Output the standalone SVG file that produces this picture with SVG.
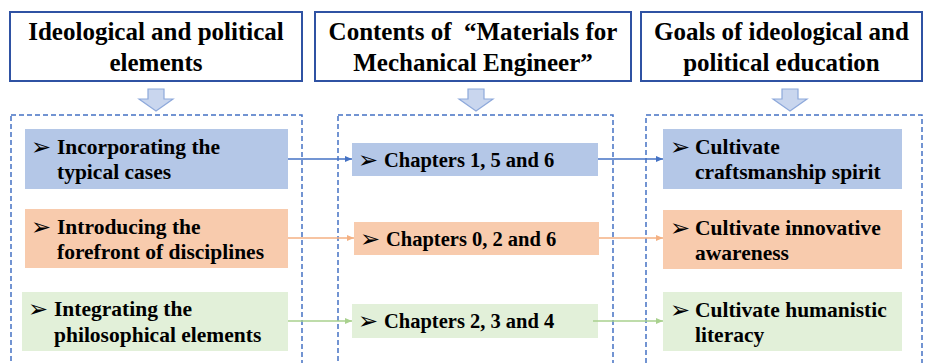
<svg xmlns="http://www.w3.org/2000/svg" width="927" height="363" viewBox="0 0 927 363">
<style>
.hdr{fill:#fff;stroke:#2f52a3;stroke-width:2}
.ht{font-family:'Liberation Serif','DejaVu Serif','Times New Roman',serif;font-weight:700;font-size:25px;fill:#000;text-anchor:middle}
.cont{fill:none;stroke:#4472c4;stroke-width:1.5;stroke-dasharray:5 3}
.down{fill:#c9d6ee;stroke:#8ea9db;stroke-width:1.2}
.blue{fill:#b4c7e7}.orange{fill:#f8cbad}.green{fill:#e2f0d9}
.t{font-family:'Liberation Serif','DejaVu Serif','Times New Roman',serif;font-weight:700;font-size:21.5px;fill:#000}
.tc{font-family:'Liberation Serif','DejaVu Serif','Times New Roman',serif;font-weight:700;font-size:20.5px;fill:#000}
.b{font-family:'DejaVu Sans',sans-serif;font-size:24px;fill:#000}
.cb{stroke:#4472c4;stroke-width:1.5;fill:none}
.co{stroke:#f4b183;stroke-width:1.5;fill:none}
.cg{stroke:#a9d18e;stroke-width:1.5;fill:none}
</style>
<defs>
<marker id="mb" markerWidth="8" markerHeight="8" refX="7" refY="4" orient="auto" markerUnits="userSpaceOnUse"><path d="M0,1 L7,4 L0,7 Z" fill="#4472c4"/></marker>
<marker id="mo" markerWidth="8" markerHeight="8" refX="7" refY="4" orient="auto" markerUnits="userSpaceOnUse"><path d="M0,1 L7,4 L0,7 Z" fill="#f4b183"/></marker>
<marker id="mg" markerWidth="8" markerHeight="8" refX="7" refY="4" orient="auto" markerUnits="userSpaceOnUse"><path d="M0,1 L7,4 L0,7 Z" fill="#a9d18e"/></marker>
</defs>
<rect width="927" height="363" fill="#fff"/>

<g id="header1"><rect class="hdr" x="10" y="12" width="292" height="69"/>
<text class="ht" x="156" y="40">Ideological and political</text>
<text class="ht" x="156" y="71">elements</text></g>
<g id="header2"><rect class="hdr" x="315" y="12" width="316" height="69"/>
<text class="ht" x="473" y="40">Contents of&#160; “Materials for</text>
<text class="ht" x="473" y="71">Mechanical Engineer”</text></g>
<g id="header3"><rect class="hdr" x="641" y="12" width="281" height="69"/>
<text class="ht" x="781.5" y="40">Goals of ideological and</text>
<text class="ht" x="781.5" y="71">political education</text></g>

<g id="down-arrows">
<path class="down" d="M148,89 H164 V99 H173 L156,111 L139,99 H148 Z"/>
<path class="down" d="M468,89 H484 V99 H493 L476,111 L459,99 H468 Z"/>
<path class="down" d="M782,89 H798 V99 H807 L790,111 L773,99 H782 Z"/>
</g>

<g id="containers">
<rect class="cont" x="11" y="115" width="291" height="260"/>
<rect class="cont" x="338" y="115" width="275" height="260"/>
<rect class="cont" x="646" y="115" width="276" height="260"/>
</g>

<g id="left1"><rect class="blue" x="25" y="129" width="263" height="60"/>
<text class="b" x="31" y="155">➢</text>
<text class="t" x="57" y="154">Incorporating the</text>
<text class="t" x="57" y="179">typical cases</text></g>
<g id="left2"><rect class="orange" x="25" y="209" width="263" height="59"/>
<text class="b" x="31" y="235">➢</text>
<text class="t" x="57" y="234">Introducing the</text>
<text class="t" x="57" y="259">forefront of disciplines</text></g>
<g id="left3"><rect class="green" x="22" y="292" width="266" height="59"/>
<text class="b" x="28" y="317">➢</text>
<text class="t" x="54" y="316">Integrating the</text>
<text class="t" x="54" y="342">philosophical elements</text></g>

<g id="mid1"><rect class="blue" x="352" y="143" width="246" height="33"/>
<text class="b" x="358" y="168">➢</text>
<text class="tc" x="384" y="167">Chapters 1, 5 and 6</text></g>
<g id="mid2"><rect class="orange" x="354" y="222" width="245" height="33"/>
<text class="b" x="360" y="247">➢</text>
<text class="tc" x="386" y="246">Chapters 0, 2 and 6</text></g>
<g id="mid3"><rect class="green" x="352" y="304" width="246" height="34"/>
<text class="b" x="358" y="329">➢</text>
<text class="tc" x="384" y="328">Chapters 2, 3 and 4</text></g>

<g id="right1"><rect class="blue" x="663" y="129" width="239" height="60"/>
<text class="b" x="670" y="155">➢</text>
<text class="t" x="695" y="154">Cultivate</text>
<text class="t" x="695" y="179">craftsmanship spirit</text></g>
<g id="right2"><rect class="orange" x="663" y="210" width="239" height="59"/>
<text class="b" x="670" y="236">➢</text>
<text class="t" x="695" y="235">Cultivate innovative</text>
<text class="t" x="695" y="260">awareness</text></g>
<g id="right3"><rect class="green" x="663" y="292" width="239" height="59"/>
<text class="b" x="670" y="318">➢</text>
<text class="t" x="695" y="317">Cultivate humanistic</text>
<text class="t" x="695" y="342">literacy</text></g>

<g id="connectors">
<line class="cb" x1="288" y1="159" x2="352" y2="159" marker-end="url(#mb)"/>
<line class="cb" x1="598" y1="159" x2="663" y2="159" marker-end="url(#mb)"/>
<line class="co" x1="288" y1="238" x2="354" y2="238" marker-end="url(#mo)"/>
<line class="co" x1="599" y1="238" x2="663" y2="238" marker-end="url(#mo)"/>
<line class="cg" x1="288" y1="321" x2="352" y2="321" marker-end="url(#mg)"/>
<line class="cg" x1="593" y1="321" x2="663" y2="321" marker-end="url(#mg)"/>
</g>
</svg>
